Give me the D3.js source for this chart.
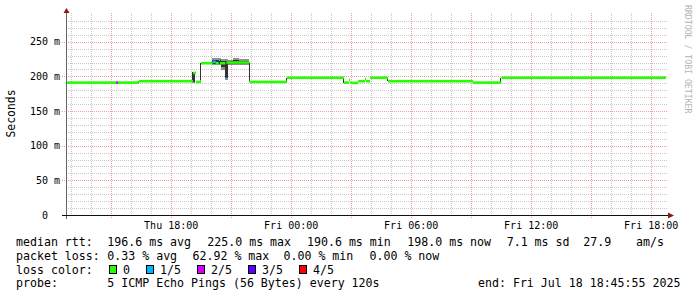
<!DOCTYPE html>
<html><head><meta charset="utf-8">
<script src="https://cdn.jsdelivr.net/npm/d3@7/dist/d3.min.js"></script>
<style>
html,body{margin:0;padding:0;background:#fff;}
svg{display:block;}
text{font-family:"DejaVu Sans Mono", monospace;white-space:pre;}
</style></head><body>
<svg id="chart" width="697" height="297"></svg>
<script>
// ---------- data ----------
const startTime = "2025-07-17T12:45:55";
const endTime   = "2025-07-18T18:45:55";

// median rtt (ms), step series; each value holds until the next time
const medianTimes = [
  "2025-07-17T12:46","2025-07-17T15:16","2025-07-17T15:22","2025-07-17T16:25",
  "2025-07-17T19:07","2025-07-17T19:16","2025-07-17T19:31","2025-07-17T20:06",
  "2025-07-17T20:15","2025-07-17T20:24","2025-07-17T20:28","2025-07-17T20:44",
  "2025-07-17T20:47","2025-07-17T21:56","2025-07-17T23:49","2025-07-18T02:40",
  "2025-07-18T02:55","2025-07-18T02:58","2025-07-18T03:04","2025-07-18T03:22",
  "2025-07-18T03:43","2025-07-18T03:46","2025-07-18T03:58","2025-07-18T04:52",
  "2025-07-18T09:07","2025-07-18T10:32"
];
const medianValues = [
  191, 191, 191, 193,
  205, 192, 219, 221,
  219, 224, 219, 197,
  220, 192, 198, 191,
  195, 191, 190.6, 193,
  196, 193, 198, 193,
  191, 198
];
// lost pings out of 5
const medianLoss = [
  0, 2, 0, 0,
  0, 0, 0, 1,
  0, 1, 0, 1,
  0, 0, 0, 0,
  0, 0, 0, 0,
  0, 0, 0, 0,
  0, 0
];

// smoke: ping distribution (5 sorted pings, ms) over short spans
const smokeStart = [
  "2025-07-17T16:22","2025-07-17T19:04","2025-07-17T19:28","2025-07-17T20:04",
  "2025-07-17T20:31","2025-07-17T20:43","2025-07-17T20:52","2025-07-17T21:07",
  "2025-07-17T21:25","2025-07-17T21:55","2025-07-17T23:46","2025-07-18T02:37",
  "2025-07-18T04:49","2025-07-18T10:29"
];
const smokeEnd = [
  "2025-07-17T16:25","2025-07-17T19:13","2025-07-17T19:31","2025-07-17T20:31",
  "2025-07-17T20:43","2025-07-17T20:52","2025-07-17T21:07","2025-07-17T21:25",
  "2025-07-17T21:55","2025-07-17T21:58","2025-07-17T23:49","2025-07-18T02:40",
  "2025-07-18T04:52","2025-07-18T10:32"
];
const smokePings = [
  [191,191,192,194,194],
  [191,192,205,206,207],
  [194,195,218,219,220],
  [217,218,222,224,227],
  [209,213,219,222,225],
  [195,197,219,222,225],
  [217,218,220,222,224],
  [217,218,221,223,226],
  [217,218,220,222,225],
  [192,193,217,219,221],
  [192,192,197,198,198],
  [191,191,197,198,198],
  [193,193,197,198,198],
  [191,191,197,198,198]
];

const yTickValues = [0, 50, 100, 150, 200, 250];
const yTickLabels = ["0  ", "50 m", "100 m", "150 m", "200 m", "250 m"];
const xTickTimes  = ["2025-07-17T18:00","2025-07-18T00:00","2025-07-18T06:00","2025-07-18T12:00","2025-07-18T18:00"];
const xTickLabels = ["Thu 18:00","Fri 00:00","Fri 06:00","Fri 12:00","Fri 18:00"];

const rttLabel = "median rtt:";
const rttStats = ["196.6 ms avg","225.0 ms max","190.6 ms min","198.0 ms now","7.1 ms sd","27.9"];
const rttUnit = "am/s";
const lossLabel = "packet loss:";
const lossStats = ["0.33 % avg","62.92 % max","0.00 % min","0.00 % now"];
const colorLabel = "loss color:";
const lossLabels = ["0","1/5","2/5","3/5","4/5"];
const probeLabel = "probe:";
const probeText = "5 ICMP Echo Pings (56 Bytes) every 120s";
const endText = "end: Fri Jul 18 18:45:55 2025";
const yTitle = "Seconds";
const sideText = "RRDTOOL / TOBI OETIKER";

// ---------- styles ----------
const lossColors = ["#26ff00","#00b8ff","#d400ff","#5e00ff","#ff0000"];
const smokeOuter = "#919191", smokeInner = "#323232";

// ---------- chart ----------
const parse = s => new Date(s);
const svg = d3.select("#chart");
const x = d3.scaleTime().domain([parse(startTime), parse(endTime)]).range([66, 666]);
const y = d3.scaleLinear().domain([0, 290]).range([215, 14]);
const px = v => Math.round(v) + 0.5;

svg.append("rect").attr("width",697).attr("height",297).attr("fill","#fff");

const grid = svg.append("g").attr("shape-rendering","crispEdges");
// minor horizontal grid
const yMinor = d3.range(10, 290, 10).filter(v => v % 50 !== 0);
grid.selectAll("line.hmin").data(yMinor).join("line")
  .attr("x1", 66).attr("x2", 668).attr("y1", d => px(y(d))).attr("y2", d => px(y(d)))
  .attr("stroke", "#c8c8c8").attr("stroke-dasharray", "1,1");
// minor vertical grid (hourly)
const hours = d3.timeHour.every(1).range(x.domain()[0], x.domain()[1]).filter(d => d.getHours() % 3 !== 0);
grid.selectAll("line.vmin").data(hours).join("line")
  .attr("x1", d => px(x(d))).attr("x2", d => px(x(d))).attr("y1", 13).attr("y2", 215)
  .attr("stroke", "#c8c8c8").attr("stroke-dasharray", "1,1");
// major horizontal grid
grid.selectAll("line.hmaj").data(yTickValues.filter(v => v > 0)).join("line")
  .attr("x1", 62).attr("x2", 668).attr("y1", d => px(y(d))).attr("y2", d => px(y(d)))
  .attr("stroke", "#e8a0a0").attr("stroke-dasharray", "1,1");
// major vertical grid (3-hourly)
const major = d3.timeHour.every(3).range(x.domain()[0], x.domain()[1]);
grid.selectAll("line.vmaj").data(major).join("line")
  .attr("x1", d => px(x(d))).attr("x2", d => px(x(d))).attr("y1", 13).attr("y2", 219)
  .attr("stroke", "#e8a0a0").attr("stroke-dasharray", "1,1");

// smoke
const smoke = smokeStart.map((s, i) => ({t0: parse(s), t1: parse(smokeEnd[i]), p: smokePings[i]}));
const sm = svg.append("g").attr("shape-rendering","crispEdges");
sm.selectAll("rect.outer").data(smoke).join("rect")
  .attr("x", d => Math.round(x(d.t0))).attr("width", d => Math.max(1, Math.round(x(d.t1)) - Math.round(x(d.t0))))
  .attr("y", d => Math.round(y(d.p[4]))).attr("height", d => Math.max(1, Math.round(y(d.p[0])) - Math.round(y(d.p[4]))))
  .attr("fill", smokeOuter);
sm.selectAll("rect.inner").data(smoke).join("rect")
  .attr("x", d => Math.round(x(d.t0))).attr("width", d => Math.max(1, Math.round(x(d.t1)) - Math.round(x(d.t0))))
  .attr("y", d => Math.round(y(d.p[3]))).attr("height", d => Math.max(1, Math.round(y(d.p[1])) - Math.round(y(d.p[3]))))
  .attr("fill", smokeInner);

// median band coloured by loss
const med = medianTimes.map((t, i) => ({
  t0: parse(t), t1: parse(i + 1 < medianTimes.length ? medianTimes[i + 1] : endTime),
  v: medianValues[i], loss: medianLoss[i]
}));
svg.append("g").selectAll("rect").data(med).join("rect")
  .attr("x", d => x(d.t0)).attr("width", d => x(d.t1) - x(d.t0))
  .attr("y", d => y(d.v) - 1.3).attr("height", 2.6)
  .attr("fill", d => lossColors[d.loss]);

// axes
svg.append("line").attr("x1", 66.5).attr("x2", 66.5).attr("y1", 219).attr("y2", 12)
  .attr("stroke", "#666").attr("shape-rendering","crispEdges");
svg.append("path").attr("d", "M63.5,13 L69.5,13 L66.5,8 Z").attr("fill", "#8b1a1a");
svg.append("line").attr("x1", 62).attr("x2", 669).attr("y1", 215.5).attr("y2", 215.5)
  .attr("stroke", "#111").attr("shape-rendering","crispEdges");
svg.append("path").attr("d", "M668,212.5 L668,218.5 L674,215.5 Z").attr("fill", "#8b1a1a");

// y tick labels
svg.append("g").selectAll("text").data(yTickValues).join("text")
  .attr("x", 60).attr("y", d => y(d) + 3.6).attr("text-anchor", "end")
  .attr("font-size", "10px").attr("fill", "#000")
  .text((d, i) => yTickLabels[i]);
// x tick labels
svg.append("g").selectAll("text").data(xTickTimes).join("text")
  .attr("x", d => x(parse(d)) + 0.5).attr("y", 228.5).attr("text-anchor", "middle")
  .attr("font-size", "10px").attr("fill", "#000")
  .text((d, i) => xTickLabels[i]);

// y title
svg.append("text").attr("transform", "translate(14.5,113.5) rotate(-90)")
  .attr("text-anchor", "middle").attr("font-size", "11.4px").attr("fill", "#000").text(yTitle);
// side credit
svg.append("text").attr("transform", "translate(685,5) rotate(90)")
  .attr("text-anchor", "start").attr("font-size", "8.2px").attr("fill", "#b4b4b4").text(sideText);

// legend
const fs = "11.6px";
const rowY = [245.8, 259.6, 273.5, 287.4];
const leg = svg.append("g").attr("font-size", fs).attr("fill", "#000");
const put = (s, xx, row) => leg.append("text").attr("x", xx).attr("y", rowY[row]).text(s);
put(rttLabel, 16, 0);
const rttX = [107.3, 207.3, 307, 407.3, 506.7, 583.3];
rttStats.forEach((s, i) => put(s, rttX[i], 0));
put(rttUnit, 636, 0);
put(lossLabel, 16, 1);
const lossX = [107.3, 192.5, 283.5, 369.5];
lossStats.forEach((s, i) => put(s, lossX[i], 1));
put(colorLabel, 16, 2);
let bx = 109;
lossLabels.forEach((s, i) => {
  leg.append("rect").attr("x", bx + 0.5).attr("y", 265.5).attr("width", 7).attr("height", 8)
    .attr("fill", lossColors[i]).attr("stroke", "#000").attr("shape-rendering","crispEdges");
  put(s, bx + 14, 2);
  bx = bx + 14 + s.length * 7 + 16;
});
put(probeLabel, 16, 3);
put(probeText, 107.3, 3);
put(endText, 478, 3);
</script>
</body></html>
